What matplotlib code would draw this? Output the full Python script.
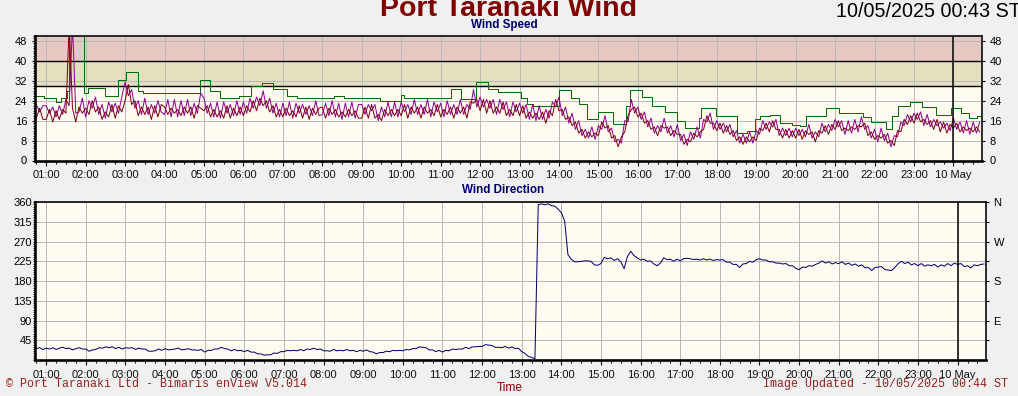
import numpy as np
import matplotlib
matplotlib.use("Agg")
import matplotlib.pyplot as plt
from matplotlib.ticker import FixedLocator, MultipleLocator

plt.rcParams['font.family'] = ['Liberation Sans', 'DejaVu Sans']

# ---------------- data ----------------
# x axis: hours since 9 May 00:00 ; window 00:43 -> 00:43 next day
x_start, x_end = 43 / 60, 24 + 43 / 60
hour_ticks = list(range(1, 25))
hour_labels = ['%02d:00' % h for h in range(1, 24)] + ['10 May']

# wind speed (kn), 5-minute samples from 00:45 (rows = hours)
speed_avg_rows = [
    [17, 21, 16.5],
    [16.5, 20.5, 15.5, 20, 16.5, 20.5, 19, 55, 21, 15.5, 21.5, 19],
    [21, 18.5, 24, 19.5, 21.5, 16.5, 19.5, 17.5, 22.5, 17, 22, 19.5],
    [24, 30.5, 22.5, 24, 18, 21.5, 18.5, 21.5, 16.5, 22, 17.5, 22.5],
    [21.5, 18.5, 21, 19, 20.5, 18, 21.5, 19, 21.5, 17, 22, 21],
    [20, 22, 17.5, 20.5, 17.5, 20, 17, 22, 17, 21, 18, 21.5],
    [18, 22, 19.5, 24, 20, 25, 22, 24, 19.5, 22, 17.5, 20.5],
    [17.5, 21, 18, 20, 17.5, 22, 17, 21.5, 16.5, 21, 18.5, 21],
    [21.5, 17, 21, 18.5, 20.5, 17.5, 19.5, 17.5, 20.5, 18, 20, 17],
    [17, 21.5, 17, 22.5, 17, 18.5, 16, 20.5, 18, 20.5, 18, 20.5],
    [18, 22.5, 17, 21.5, 19, 21.5, 17, 21.5, 19, 20.5, 18, 22.5],
    [17.5, 20.5, 18.5, 21.5, 17, 21.5, 19, 21.5, 17, 23.5, 23, 24.5],
    [20, 24.5, 19, 24, 19, 21.5, 19, 23.5, 18, 20.5, 18, 22.5],
    [18, 22, 17, 19.5, 17, 19, 16.5, 19.5, 15, 20, 18, 24.5],
    [20, 20.5, 16.5, 17.5, 14, 15.5, 11, 12.5, 9, 11.5, 9.5, 11],
    [10, 15.5, 13, 14, 9, 10, 5.5, 9.5, 11.5, 18, 20.5, 21.5],
    [17.5, 19, 15, 16, 12.5, 13.5, 10, 14, 13, 13.5, 10, 12],
    [10.5, 10.5, 6.5, 8.5, 7.5, 11, 9.5, 11.5, 12.5, 18, 15, 15],
    [12, 15, 11, 14, 10.5, 12, 8, 9.5, 6.5, 9.5, 7.5, 9.5],
    [8, 13, 12, 15, 11.5, 16, 12.5, 12.5, 9, 12.5, 9, 12],
    [9, 12.5, 8.5, 12, 10.5, 11.5, 7.5, 12, 11, 14, 10.5, 14.5],
    [12.5, 16, 12, 13, 12, 13.5, 12.5, 14, 13.5, 15, 10, 11.5],
    [8.5, 10, 9, 10.5, 7, 8, 6, 12, 11.5, 16.5, 14.5, 18],
    [15, 19, 15.5, 16.5, 14.5, 16, 12.5, 16.5, 11.5, 15.5, 11, 14.5],
    [13, 15, 11.5, 13.5, 12, 13, 11.5, 13.5, 11.5],
]
speed_gust_rows = [
    [22.5, 19.5, 22],
    [22, 19, 21.5, 17.5, 22, 18.5, 24.5, 22, 55, 19, 19.5, 25],
    [17.5, 24, 21, 25.5, 18.5, 22.5, 17, 23.5, 19.5, 23, 19, 25.5],
    [31.5, 26, 28.5, 21, 24, 18.5, 25, 18.5, 22.5, 19, 24, 19.5],
    [18.5, 24.5, 17.5, 24.5, 17.5, 24, 18, 24.5, 18, 23, 19, 27],
    [25, 19, 23, 17.5, 23.5, 17, 23.5, 19, 22.5, 18, 24, 18.5],
    [23.5, 19, 25, 21, 25.5, 22, 28, 21, 25, 19, 23, 17.5],
    [23, 18, 23.5, 17, 23, 19, 22.5, 18.5, 22, 18, 24, 18],
    [18.5, 23, 18, 24, 17.5, 23, 16.5, 23, 17.5, 23.5, 17, 22.5],
    [22.5, 18.5, 22.5, 20, 22.5, 16, 21.5, 17.5, 23.5, 17.5, 23.5, 17.5],
    [23.5, 19.5, 22.5, 18.5, 24.5, 18.5, 22.5, 18.5, 24.5, 17.5, 23.5, 19.5],
    [23, 17.5, 24, 18.5, 22.5, 18.5, 24.5, 18.5, 22.5, 20.5, 28.5, 21.5],
    [25.5, 21.5, 24.5, 21, 24.5, 18.5, 24.5, 20.5, 23.5, 17.5, 23.5, 19.5],
    [23, 19, 22.5, 16.5, 22.5, 16, 22, 16.5, 20.5, 17, 23.5, 21.5],
    [25.5, 18, 21.5, 15, 19, 12.5, 16, 10, 12.5, 9, 13.5, 8.5],
    [14, 12.5, 18, 11.5, 13, 7.5, 8.5, 7, 16, 15.5, 24.5, 19],
    [21.5, 16.5, 19.5, 13.5, 17, 11, 14, 11.5, 17, 11, 14, 9.5],
    [14.5, 8, 10.5, 6, 11.5, 8.5, 13.5, 9, 16.5, 15.5, 19, 12.5],
    [16, 12.5, 15, 11.5, 14.5, 9.5, 12, 7, 10.5, 7, 11.5, 7],
    [12, 10.5, 16, 12.5, 15.5, 13.5, 16.5, 10, 13, 10, 13, 9.5],
    [13, 10, 12.5, 9.5, 14.5, 9, 11.5, 9.5, 15, 11.5, 14.5, 12],
    [16.5, 13.5, 16, 10.5, 16, 11, 16.5, 11.5, 17.5, 12.5, 14, 9],
    [12.5, 7.5, 13, 8, 11, 5.5, 10, 9.5, 15.5, 14, 18.5, 15.5],
    [19, 16.5, 19.5, 14, 18.5, 13.5, 16.5, 14, 15.5, 13, 15, 12],
    [17, 12.5, 15.5, 11, 16, 10.5, 15.5, 11, 15.5],
]

# rolling maximum (green step line): change times (h) and values (kn)
max_times = [0.717, 0.95, 1.25, 1.38, 1.52, 1.58, 1.95, 2.07, 2.50, 2.82, 3.03,
             3.32, 3.45, 4.90, 5.16, 5.40, 5.90, 6.20, 6.47, 6.76, 7.10, 7.35,
             8.30, 8.55, 9.47, 10.0, 10.08, 11.26, 11.52, 11.90, 12.20, 12.46,
             13.05, 13.20, 13.35, 14.0, 14.3, 14.5, 14.7, 15.0, 15.36, 15.7,
             15.8, 16.1, 16.37, 16.7, 17.0, 17.2, 17.55, 17.6, 17.97, 18.52,
             18.77, 18.98, 19.10, 19.36, 19.6, 19.9, 20.1, 20.25, 20.78, 21.1,
             21.7, 21.9, 22.3, 22.45, 22.6, 22.9, 23.2, 23.57, 23.95, 24.2,
             24.4, 24.6, 24.717]
max_values = [26, 25, 23.5, 25, 28, 55, 27, 29, 26, 32.5, 35.5,
              28, 27.3, 32.3, 28, 25.3, 26, 30, 31, 28.6, 26, 25.3,
              26, 25.3, 23.8, 26.5, 24.9, 28.6, 24.8, 31.5, 28.6, 27.5,
              25, 22.5, 22, 28.3, 25, 22.5, 16.8, 19.4, 14.8, 22,
              28.3, 25.6, 21.9, 19.4, 16, 13, 17, 20.9, 17.8, 11,
              11.7, 16.5, 17.8, 18.4, 15.1, 14.4, 13.8, 17.8, 20.9, 19,
              17.5, 15.5, 12.6, 18, 22, 23.3, 21.3, 18.4, 21, 19,
              17.1, 18, 18]

# wind direction (deg), 5-minute samples from 00:45 (rows = hours)
direction_rows = [
    [26, 28, 24],
    [27, 25, 28, 24, 27, 29, 26, 27, 23, 26, 28, 25],
    [25, 20, 23, 24, 28, 27, 30, 28, 30, 26, 29, 25],
    [28, 27, 28, 24, 27, 25, 25, 20, 20, 21, 25, 22],
    [26, 23, 24, 25, 27, 23, 24, 26, 23, 23, 22, 24],
    [18, 22, 22, 25, 25, 29, 26, 25, 21, 24, 21, 22],
    [19, 22, 18, 18, 14, 14, 11, 12, 12, 16, 15, 19],
    [19, 22, 21, 22, 21, 24, 21, 25, 24, 27, 24, 25],
    [21, 21, 20, 24, 21, 22, 21, 24, 21, 22, 19, 22],
    [20, 23, 19, 18, 14, 17, 17, 20, 19, 22, 21, 22],
    [21, 24, 23, 26, 26, 30, 29, 28, 23, 23, 19, 22],
    [18, 22, 21, 25, 24, 25, 25, 29, 26, 30, 30, 31],
    [31, 35, 34, 33, 29, 29, 28, 31, 27, 30, 26, 27],
    [19, 15, 8, 6, 3, 354, 356, 354, 356, 352, 351, 344],
    [336, 317, 240, 230, 224, 224, 225, 226, 226, 225, 217, 216],
    [220, 234, 231, 233, 227, 231, 224, 208, 236, 248, 238, 233],
    [228, 230, 225, 226, 219, 215, 221, 233, 229, 230, 225, 230],
    [226, 231, 232, 231, 229, 230, 228, 231, 228, 230, 227, 229],
    [228, 229, 223, 223, 218, 218, 211, 219, 220, 225, 223, 229],
    [231, 228, 228, 224, 224, 221, 221, 219, 220, 215, 215, 209],
    [206, 212, 211, 215, 214, 218, 221, 226, 221, 224, 219, 222],
    [220, 224, 218, 221, 216, 219, 214, 217, 210, 211, 204, 211],
    [212, 213, 206, 205, 204, 211, 220, 225, 220, 223, 217, 220],
    [215, 220, 214, 217, 215, 218, 212, 217, 214, 220, 215, 221],
    [218, 220, 213, 215, 210, 217, 215, 218, 219],
]

speed_ticks = [0, 8, 16, 24, 32, 40, 48]
dir_ticks = [45, 90, 135, 180, 225, 270, 315, 360]
dir_right_labels = ['', 'E', '', 'S', '', 'W', '', 'N']

speed_avg = np.concatenate([np.asarray(r, float) for r in speed_avg_rows])
speed_gust = np.concatenate([np.asarray(r, float) for r in speed_gust_rows])
direction = np.concatenate([np.asarray(r, float) for r in direction_rows])
sample_t = (45 + 5 * np.arange(len(speed_avg))) / 60.0

# ---------------- style ----------------
W, H = 1018, 396
PX = 0.72  # points per pixel at 100 dpi
BG = '#F0F0F0'
CREAM = '#FFFBF0'
RED_ZONE = '#E6C8C2'
YEL_ZONE = '#E3DFBF'
GRID = '#B8B8B8'
DARKRED = '#800000'
NAVY = '#000070'

fig = plt.figure(figsize=(W / 100, H / 100), dpi=100, facecolor=BG)


def px_axes(left, top, right, bottom):
    return fig.add_axes([left / W, 1 - bottom / H, (right - left) / W, (bottom - top) / H])


ax1 = px_axes(35, 36, 981.7, 160.5)
ax2 = px_axes(35, 201.7, 986, 360)

for ax in (ax1, ax2):
    ax.set_facecolor(CREAM)
    ax.set_xlim(x_start, x_end)
    ax.xaxis.set_major_locator(FixedLocator(hour_ticks))
    ax.set_xticklabels(hour_labels)
    ax.xaxis.set_minor_locator(MultipleLocator(0.25))
    ax.tick_params(axis='x', which='major', length=3.4, width=0.8, pad=3.6,
                   labelsize=8, colors='#101010', direction='out')
    ax.tick_params(axis='x', which='minor', length=2.0, width=0.8, direction='out')
    ax.set_axisbelow(True)
    ax.grid(True, which='major', color=GRID, lw=1.0 * PX)
    ax.spines['left'].set_linewidth(2.6 * PX)
    ax.spines['bottom'].set_linewidth(2.6 * PX)
    ax.spines['top'].set_linewidth(1.6 * PX)
    ax.spines['right'].set_linewidth(1.6 * PX)
    ax.axvline(24, color='black', lw=1.5 * PX, zorder=3)

# ---- wind speed panel ----
ax1.set_ylim(0, 50)
ax1.set_yticks(speed_ticks)
ax1.yaxis.set_minor_locator(MultipleLocator(1))
ax1.tick_params(axis='y', which='major', length=2.0, width=0.8, pad=3.6,
                labelsize=8, left=True, right=True, labelleft=True, labelright=True)
ax1.tick_params(axis='y', which='minor', length=1.2, width=0.6, left=True, right=False)
ax1.axhspan(40, 50, color=RED_ZONE, zorder=0.2, lw=0)
ax1.axhspan(30, 40, color=YEL_ZONE, zorder=0.2, lw=0)
ax1.axhline(30, color='black', lw=1.4 * PX, zorder=0.6)
ax1.axhline(40, color='black', lw=1.4 * PX, zorder=0.6)
ax1.step(max_times, max_values, where='post', color='#007000', lw=1.0 * PX, zorder=2)
ax1.plot(sample_t, speed_gust, color='#900090', lw=1.0 * PX, zorder=2.2)
ax1.plot(sample_t, speed_avg, color='#800010', lw=1.0 * PX, zorder=2.4)

# ---- wind direction panel ----
ax2.set_ylim(0, 361)
ax2.set_yticks(dir_ticks)
ax2.yaxis.set_minor_locator(MultipleLocator(5))
ax2.tick_params(axis='y', which='major', length=1.5, width=0.8, pad=0.6,
                labelsize=8, left=True, right=False)
ax2.tick_params(axis='y', which='minor', length=1.2, width=0.6, left=True, right=False)
ax2.plot(sample_t, direction, color=NAVY, lw=1.0 * PX, zorder=2.4)

ax2r = ax2.twinx()
for s in ax2r.spines.values():
    s.set_visible(False)
ax2r.set_ylim(ax2.get_ylim())
ax2r.set_yticks(dir_ticks)
ax2r.set_yticklabels(dir_right_labels)
ax2r.tick_params(axis='y', length=2.0, width=0.8, pad=3.4, labelsize=8)

# ---------------- texts ----------------
def ftext(x, y, s, **kw):
    fig.text(x / W, 1 - y / H, s, va='baseline', **kw)


ftext(509, 16, 'Port Taranaki Wind', ha='center', color=DARKRED,
      fontsize=20.5, fontweight='bold')
ftext(836, 17, '10/05/2025 00:43 ST', ha='left', color='black', fontsize=14.2)
ftext(504, 28, 'Wind Speed', ha='center', color=NAVY, fontsize=8.4, fontweight='bold')
ftext(503, 192.5, 'Wind Direction', ha='center', color=NAVY, fontsize=8.4, fontweight='bold')
ftext(510, 391, 'Time', ha='center', color=DARKRED, fontsize=8.6)
ftext(6.5, 387, '\u00a9 Port Taranaki Ltd - Bimaris enView V5.014', ha='left',
      color='#982020', fontsize=8.4, family=['Liberation Mono', 'DejaVu Sans Mono'])
ftext(1008, 387, 'Image Updated - 10/05/2025 00:44 ST', ha='right',
      color='#982020', fontsize=8.4, family=['Liberation Mono', 'DejaVu Sans Mono'])

fig.savefig('out.png', dpi=100, facecolor=BG)
